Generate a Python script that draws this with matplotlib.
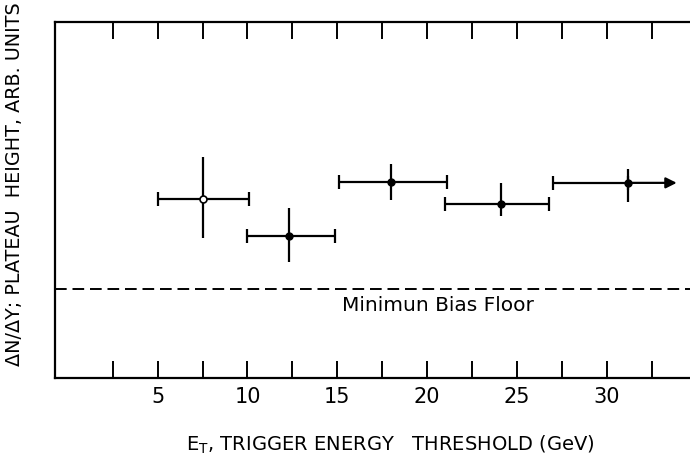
import matplotlib
matplotlib.use('Agg')
import matplotlib.pyplot as plt
import numpy as np

# trigger energy threshold bins (GeV)
x_center = [7.5, 12.3, 18.0, 24.1, 31.2]
x_low = [5.0, 10.0, 15.1, 21.0, 27.0]
x_high = [10.1, 14.9, 21.1, 26.8, 33.9]

# plateau height (arb. units)
y_val = [5.03, 4.00, 5.51, 4.89, 5.49]
y_up = [6.22, 4.79, 6.02, 5.48, 5.88]
y_down = [3.95, 3.27, 5.01, 4.56, 4.96]

floor_level = 2.50
x_ticks = [2.5, 5, 7.5, 10, 12.5, 15, 17.5, 20, 22.5, 25, 27.5, 30, 32.5]
x_ticklabels = ['', '5', '', '10', '', '15', '', '20', '', '25', '', '30', '']

plt.rcParams['font.family'] = ['DejaVu Sans']

fig = plt.figure(figsize=(6.9, 4.61), dpi=100)
ax = fig.add_axes([0.0793, 0.1794, 0.9207, 0.7722])

xc = np.array(x_center)
yv = np.array(y_val)
xerr = [xc - np.array(x_low), np.array(x_high) - xc]
yerr = [yv - np.array(y_down), np.array(y_up) - yv]

# horizontal bars (with caps), last one open-ended -> arrow
n = len(xc)
ax.errorbar(xc[:n - 1], yv[:n - 1], xerr=[xerr[0][:n - 1], xerr[1][:n - 1]],
            fmt='none', ecolor='black', elinewidth=1.6, capsize=5, capthick=1.6)
ax.errorbar(xc[n - 1:], yv[n - 1:], xerr=[xerr[0][n - 1:], [0]],
            fmt='none', ecolor='black', elinewidth=1.6, capsize=5, capthick=1.6)
ax.annotate('', xy=(x_high[-1], y_val[-1]), xytext=(x_center[-1], y_val[-1]),
            arrowprops=dict(arrowstyle='-|>', color='black', lw=1.6,
                            mutation_scale=16, shrinkA=0, shrinkB=0))
# vertical bars
ax.errorbar(xc, yv, yerr=yerr, fmt='none', ecolor='black', elinewidth=1.6, capsize=0)
# markers
ax.plot(xc[1:], yv[1:], 'o', color='black', ms=5)
ax.plot(xc[:1], yv[:1], 'o', mfc='white', mec='black', mew=1.2, ms=5)

# minimum bias floor
ax.axhline(floor_level, color='black', lw=1.4, ls=(0, (6, 3)))
ax.text(20.6, floor_level - 0.45, 'Minimun Bias Floor', ha='center', va='center',
        fontsize=14.5)

ax.set_xlim(-0.73, 34.64)
ax.set_ylim(0, 10)
ax.spines['right'].set_visible(False)
for s in ['left', 'bottom', 'top']:
    ax.spines[s].set_linewidth(1.6)

ax.set_xticks(x_ticks)
ax.set_xticklabels(x_ticklabels, fontsize=15)
ax.set_yticks([])
ax.tick_params(axis='x', which='both', direction='in', length=12, width=1.4,
               top=True, bottom=True, pad=6)

ax.set_xlabel(r'E$_\mathregular{T}$, TRIGGER ENERGY   THRESHOLD (GeV)', fontsize=14)
ax.xaxis.set_label_coords(0.528, -0.155)
ax.set_ylabel('ΔN/ΔY; PLATEAU  HEIGHT, ARB. UNITS', fontsize=13.8)
ax.yaxis.set_label_coords(-0.048, 0.545)

plt.savefig('out.png', dpi=100)
